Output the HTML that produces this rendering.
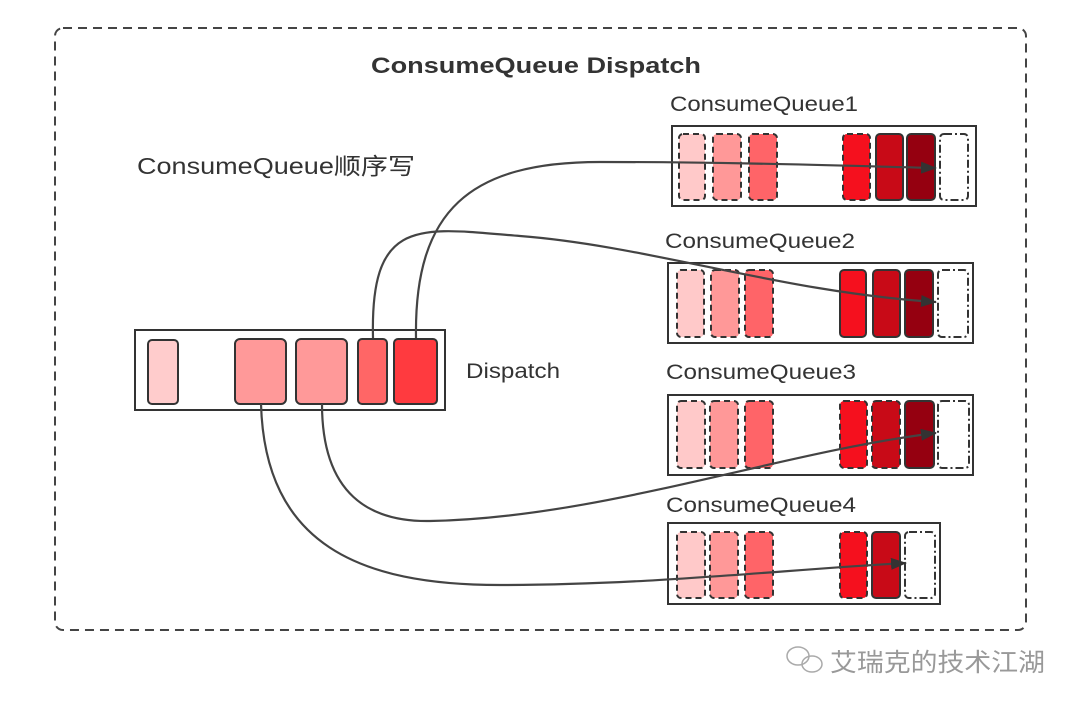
<!DOCTYPE html>
<html><head><meta charset="utf-8"><style>
html,body{margin:0;padding:0;background:#fff;width:1080px;height:707px;overflow:hidden}
text{font-family:"Liberation Sans","Noto Sans CJK SC",sans-serif;fill:#333}
</style></head><body>
<svg width="1080" height="707" viewBox="0 0 1080 707" xmlns="http://www.w3.org/2000/svg">
<defs>
<marker id="a" markerWidth="16" markerHeight="12" refX="15" refY="6" orient="auto" markerUnits="userSpaceOnUse">
<path d="M0,0 L16,6 L0,12 z" fill="#333"/></marker>
</defs>
<rect x="55" y="28" width="971" height="602" rx="8" fill="none" stroke="#444" stroke-width="2" stroke-dasharray="9,6"/>
<text x="371" y="73" font-size="22" font-weight="bold" textLength="330" lengthAdjust="spacingAndGlyphs">ConsumeQueue Dispatch</text>
<text x="137" y="174" font-size="23" textLength="278" lengthAdjust="spacingAndGlyphs">ConsumeQueue顺序写</text>

<g stroke="#333" stroke-width="2">
<rect x="672" y="126" width="304" height="80" fill="#fff"/>
<rect x="679" y="134" width="26" height="66" rx="4" fill="#ffc9c9" stroke-dasharray="6,4"/>
<rect x="713" y="134" width="28" height="66" rx="4" fill="#ff9898" stroke-dasharray="6,4"/>
<rect x="749" y="134" width="28" height="66" rx="4" fill="#ff6468" stroke-dasharray="6,4"/>
<rect x="843" y="134" width="27" height="66" rx="4" fill="#f5101e" stroke-dasharray="6,4"/>
<rect x="876" y="134" width="27" height="66" rx="4" fill="#c80a17"/>
<rect x="907" y="134" width="28" height="66" rx="4" fill="#950010"/>
<rect x="940" y="134" width="28" height="66" rx="4" fill="#fff" stroke-dasharray="8,3,2,3"/>
<rect x="668" y="263" width="305" height="80" fill="#fff"/>
<rect x="677" y="270" width="27" height="67" rx="4" fill="#ffc9c9" stroke-dasharray="6,4"/>
<rect x="711" y="270" width="28" height="67" rx="4" fill="#ff9898" stroke-dasharray="6,4"/>
<rect x="745" y="270" width="28" height="67" rx="4" fill="#ff6468" stroke-dasharray="6,4"/>
<rect x="840" y="270" width="26" height="67" rx="4" fill="#f5101e"/>
<rect x="873" y="270" width="27" height="67" rx="4" fill="#c80a17"/>
<rect x="905" y="270" width="28" height="67" rx="4" fill="#950010"/>
<rect x="938" y="270" width="30" height="67" rx="4" fill="#fff" stroke-dasharray="8,3,2,3"/>
<rect x="668" y="395" width="305" height="80" fill="#fff"/>
<rect x="677" y="401" width="28" height="67" rx="4" fill="#ffc9c9" stroke-dasharray="6,4"/>
<rect x="710" y="401" width="28" height="67" rx="4" fill="#ff9898" stroke-dasharray="6,4"/>
<rect x="745" y="401" width="28" height="67" rx="4" fill="#ff6468" stroke-dasharray="6,4"/>
<rect x="840" y="401" width="27" height="67" rx="4" fill="#f5101e" stroke-dasharray="6,4"/>
<rect x="872" y="401" width="28" height="67" rx="4" fill="#c80a17" stroke-dasharray="6,4"/>
<rect x="905" y="401" width="29" height="67" rx="4" fill="#950010"/>
<rect x="938" y="401" width="31" height="67" rx="4" fill="#fff" stroke-dasharray="8,3,2,3"/>
<rect x="668" y="523" width="272" height="81" fill="#fff"/>
<rect x="677" y="532" width="28" height="66" rx="4" fill="#ffc9c9" stroke-dasharray="6,4"/>
<rect x="710" y="532" width="28" height="66" rx="4" fill="#ff9898" stroke-dasharray="6,4"/>
<rect x="745" y="532" width="28" height="66" rx="4" fill="#ff6468" stroke-dasharray="6,4"/>
<rect x="840" y="532" width="27" height="66" rx="4" fill="#f5101e" stroke-dasharray="6,4"/>
<rect x="872" y="532" width="28" height="66" rx="4" fill="#c80a17"/>
<rect x="905" y="532" width="30" height="66" rx="4" fill="#fff" stroke-dasharray="8,3,2,3"/>
<rect x="135" y="330" width="310" height="80" fill="#fff"/>
<rect x="148" y="340" width="30" height="64" rx="4" fill="#ffcccc"/>
<rect x="235" y="339" width="51" height="65" rx="5" fill="#ff9999"/>
<rect x="296" y="339" width="51" height="65" rx="5" fill="#ff9999"/>
<rect x="358" y="339" width="29" height="65" rx="4" fill="#ff6666"/>
<rect x="394" y="339" width="43" height="65" rx="4" fill="#ff3a3f"/>
</g>

<g fill="none" stroke="#444" stroke-width="2.2">
<path d="M416,338 C414,210 470,162 600,162 C740,162 850,166 936,168" marker-end="url(#a)"/>
<path d="M373,338 C370,215 420,228 520,236 C650,246 780,292 936,302" marker-end="url(#a)"/>
<path d="M322,404 C322,495 370,522 430,521 C600,518 780,452 936,433" marker-end="url(#a)"/>
<path d="M261,404 C265,545 360,585 500,585 C650,585 780,570 906,563" marker-end="url(#a)"/>
</g>

<g font-size="21">
<text x="670" y="111" textLength="188" lengthAdjust="spacingAndGlyphs">ConsumeQueue1</text>
<text x="665" y="248" textLength="190" lengthAdjust="spacingAndGlyphs">ConsumeQueue2</text>
<text x="666" y="379" textLength="190" lengthAdjust="spacingAndGlyphs">ConsumeQueue3</text>
<text x="666" y="512" textLength="190" lengthAdjust="spacingAndGlyphs">ConsumeQueue4</text>
<text x="466" y="378" textLength="94" lengthAdjust="spacingAndGlyphs">Dispatch</text>
</g>

<g fill="none" stroke="#aaa" stroke-width="1.5">
<ellipse cx="798" cy="656" rx="11" ry="9"/>
<ellipse cx="812" cy="664" rx="10" ry="8"/>
</g>
<text x="830" y="671" font-size="25" style="fill:#999" textLength="215" lengthAdjust="spacingAndGlyphs">艾瑞克的技术江湖</text>
</svg>
</body></html>
